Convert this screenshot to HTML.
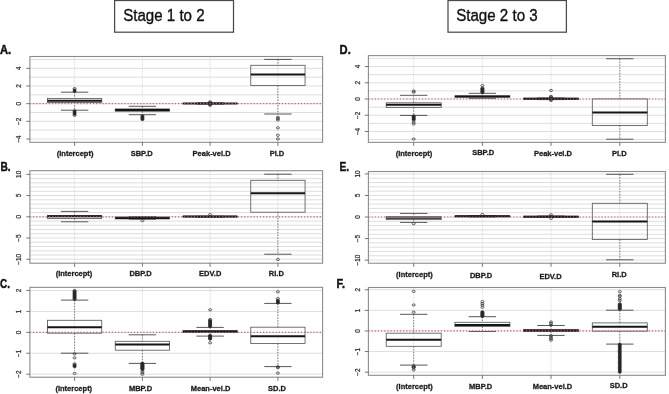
<!DOCTYPE html>
<html><head><meta charset="utf-8"><title>Stage transitions boxplots</title>
<style>
html,body{margin:0;padding:0;background:#fff;}
body{width:669px;height:394px;overflow:hidden;}
svg{display:block;will-change:transform;font-family:"Liberation Sans",sans-serif;}
.g{stroke:#dadada;stroke-width:0.9;}
.gv{stroke:#d2d2d2;stroke-width:0.8;stroke-dasharray:1 0.8;}
.w{stroke:#5a5a5a;stroke-width:0.75;stroke-dasharray:1.5 1.3;}
.s{stroke:#444;stroke-width:0.9;}
.b{fill:none;stroke:#5a5a5a;stroke-width:0.85;}
.m{stroke:#151515;stroke-width:2.0;}
.bl{fill:#1c1c1c;}
.o{fill:none;stroke:#2a2a2a;stroke-width:0.7;}
.r{stroke:#d65a74;stroke-width:1.2;stroke-dasharray:1.25 1.9;}
.fr{fill:none;stroke:#8c8c8c;stroke-width:1.1;}
.t{stroke:#666;stroke-width:0.9;}
.yl{font-size:6.4px;fill:#333;stroke:#333;stroke-width:0.25;text-anchor:middle;}
.xl{font-size:7.5px;font-weight:bold;fill:#1a1a1a;stroke:#1a1a1a;stroke-width:0.28;text-anchor:middle;}
.pl{font-size:12.3px;font-weight:bold;fill:#111;stroke:#111;stroke-width:0.45;}
.tt{font-size:16px;fill:#111;stroke:#111;stroke-width:0.35;}
.tb{fill:none;stroke:#4a4a4a;stroke-width:1.25;}
</style></head>
<body><svg width="669" height="394" viewBox="0 0 669 394">
<line x1="29.9" y1="138.97" x2="322.6" y2="138.97" class="g"/>
<line x1="29.9" y1="130.14" x2="322.6" y2="130.14" class="g"/>
<line x1="29.9" y1="121.31" x2="322.6" y2="121.31" class="g"/>
<line x1="29.9" y1="112.48" x2="322.6" y2="112.48" class="g"/>
<line x1="29.9" y1="103.65" x2="322.6" y2="103.65" class="g"/>
<line x1="29.9" y1="94.82" x2="322.6" y2="94.82" class="g"/>
<line x1="29.9" y1="85.99" x2="322.6" y2="85.99" class="g"/>
<line x1="29.9" y1="77.16" x2="322.6" y2="77.16" class="g"/>
<line x1="29.9" y1="68.33" x2="322.6" y2="68.33" class="g"/>
<line x1="29.9" y1="59.5" x2="322.6" y2="59.5" class="g"/>
<line x1="74.6" y1="56.5" x2="74.6" y2="142.3" class="gv"/>
<line x1="142.4" y1="56.5" x2="142.4" y2="142.3" class="gv"/>
<line x1="210.1" y1="56.5" x2="210.1" y2="142.3" class="gv"/>
<line x1="277.9" y1="56.5" x2="277.9" y2="142.3" class="gv"/>
<line x1="74.6" y1="92.2" x2="74.6" y2="98.4" class="w"/>
<line x1="74.6" y1="102.5" x2="74.6" y2="110.2" class="w"/>
<line x1="60.9" y1="92.2" x2="88.3" y2="92.2" class="s"/>
<line x1="60.9" y1="110.2" x2="88.3" y2="110.2" class="s"/>
<rect x="47.45" y="98.4" width="54.3" height="4.1" class="b"/>
<line x1="47.45" y1="100.7" x2="101.75" y2="100.7" class="m"/>
<rect x="73.25" y="88.7" width="2.7" height="3.6" rx="1.3" ry="1.1" class="bl"/>
<rect x="73.25" y="110.3" width="2.7" height="5.1" rx="1.3" ry="1.1" class="bl"/>
<ellipse cx="74.6" cy="88.6" rx="1.55" ry="1.1" class="o"/>
<ellipse cx="74.6" cy="90" rx="1.55" ry="1.1" class="o"/>
<ellipse cx="74.6" cy="91.4" rx="1.55" ry="1.1" class="o"/>
<ellipse cx="74.6" cy="110.8" rx="1.55" ry="1.1" class="o"/>
<ellipse cx="74.6" cy="111.92" rx="1.55" ry="1.1" class="o"/>
<ellipse cx="74.6" cy="113.05" rx="1.55" ry="1.1" class="o"/>
<ellipse cx="74.6" cy="114.17" rx="1.55" ry="1.1" class="o"/>
<ellipse cx="74.6" cy="115.3" rx="1.55" ry="1.1" class="o"/>
<line x1="142.4" y1="106.3" x2="142.4" y2="108.9" class="w"/>
<line x1="142.4" y1="111.3" x2="142.4" y2="114.7" class="w"/>
<line x1="128.7" y1="106.3" x2="156.1" y2="106.3" class="s"/>
<line x1="128.7" y1="114.7" x2="156.1" y2="114.7" class="s"/>
<rect x="115.25" y="108.9" width="54.3" height="2.4" class="b"/>
<line x1="115.25" y1="110.1" x2="169.55" y2="110.1" class="m"/>
<rect x="141.05" y="114.9" width="2.7" height="5.6" rx="1.3" ry="1.1" class="bl"/>
<ellipse cx="142.4" cy="115.8" rx="1.55" ry="1.1" class="o"/>
<ellipse cx="142.4" cy="116.75" rx="1.55" ry="1.1" class="o"/>
<ellipse cx="142.4" cy="117.7" rx="1.55" ry="1.1" class="o"/>
<ellipse cx="142.4" cy="118.65" rx="1.55" ry="1.1" class="o"/>
<ellipse cx="142.4" cy="119.6" rx="1.55" ry="1.1" class="o"/>
<line x1="210.1" y1="102.7" x2="210.1" y2="103" class="w"/>
<line x1="210.1" y1="104" x2="210.1" y2="104.3" class="w"/>
<line x1="196.4" y1="102.7" x2="223.8" y2="102.7" class="s"/>
<line x1="196.4" y1="104.3" x2="223.8" y2="104.3" class="s"/>
<rect x="182.95" y="103" width="54.3" height="1" class="b"/>
<line x1="182.95" y1="103.5" x2="237.25" y2="103.5" class="m" style="stroke-width:1.5"/>
<ellipse cx="210.1" cy="101.9" rx="1.55" ry="1.1" class="o"/>
<ellipse cx="210.1" cy="102.58" rx="1.55" ry="1.1" class="o"/>
<ellipse cx="210.1" cy="103.26" rx="1.55" ry="1.1" class="o"/>
<ellipse cx="210.1" cy="103.94" rx="1.55" ry="1.1" class="o"/>
<ellipse cx="210.1" cy="104.62" rx="1.55" ry="1.1" class="o"/>
<ellipse cx="210.1" cy="105.3" rx="1.55" ry="1.1" class="o"/>
<line x1="277.9" y1="59.4" x2="277.9" y2="65.3" class="w"/>
<line x1="277.9" y1="85.5" x2="277.9" y2="114" class="w"/>
<line x1="264.2" y1="59.4" x2="291.6" y2="59.4" class="s"/>
<line x1="264.2" y1="114" x2="291.6" y2="114" class="s"/>
<rect x="250.75" y="65.3" width="54.3" height="20.2" class="b"/>
<line x1="250.75" y1="74.5" x2="305.05" y2="74.5" class="m"/>
<ellipse cx="277.9" cy="117.3" rx="1.55" ry="1.1" class="o"/>
<ellipse cx="277.9" cy="118.6" rx="1.55" ry="1.1" class="o"/>
<ellipse cx="277.9" cy="119.9" rx="1.55" ry="1.1" class="o"/>
<ellipse cx="277.9" cy="127.85" rx="1.55" ry="1.1" class="o"/>
<ellipse cx="277.9" cy="135.3" rx="1.55" ry="1.1" class="o"/>
<ellipse cx="277.9" cy="139" rx="1.55" ry="1.1" class="o"/>
<line x1="29.9" y1="103.65" x2="322.6" y2="103.65" class="r"/>
<rect x="29.9" y="56.5" width="292.7" height="85.8" class="fr"/>
<line x1="26.3" y1="138.97" x2="29.9" y2="138.97" class="t"/>
<text transform="translate(21,138.97) rotate(-90)" class="yl">−4</text>
<line x1="26.3" y1="121.31" x2="29.9" y2="121.31" class="t"/>
<text transform="translate(21,121.31) rotate(-90)" class="yl">−2</text>
<line x1="26.3" y1="103.65" x2="29.9" y2="103.65" class="t"/>
<text transform="translate(21,103.65) rotate(-90)" class="yl">0</text>
<line x1="26.3" y1="85.99" x2="29.9" y2="85.99" class="t"/>
<text transform="translate(21,85.99) rotate(-90)" class="yl">2</text>
<line x1="26.3" y1="68.33" x2="29.9" y2="68.33" class="t"/>
<text transform="translate(21,68.33) rotate(-90)" class="yl">4</text>
<line x1="74.6" y1="142.3" x2="74.6" y2="145.9" class="t"/>
<text x="75.1" y="155.6" class="xl">(Intercept)</text>
<line x1="142.4" y1="142.3" x2="142.4" y2="145.9" class="t"/>
<text x="141.7" y="155.6" class="xl">SBP.D</text>
<line x1="210.1" y1="142.3" x2="210.1" y2="145.9" class="t"/>
<text x="211.6" y="155.6" class="xl">Peak-vel.D</text>
<line x1="277.9" y1="142.3" x2="277.9" y2="145.9" class="t"/>
<text x="277" y="155.6" class="xl">PI.D</text>
<text x="0" y="53.7" class="pl" textLength="11.2" lengthAdjust="spacingAndGlyphs">A.</text>
<line x1="29.9" y1="259.25" x2="322.6" y2="259.25" class="g"/>
<line x1="29.9" y1="255" x2="322.6" y2="255" class="g"/>
<line x1="29.9" y1="250.76" x2="322.6" y2="250.76" class="g"/>
<line x1="29.9" y1="246.52" x2="322.6" y2="246.52" class="g"/>
<line x1="29.9" y1="242.27" x2="322.6" y2="242.27" class="g"/>
<line x1="29.9" y1="238.03" x2="322.6" y2="238.03" class="g"/>
<line x1="29.9" y1="233.78" x2="322.6" y2="233.78" class="g"/>
<line x1="29.9" y1="229.54" x2="322.6" y2="229.54" class="g"/>
<line x1="29.9" y1="225.29" x2="322.6" y2="225.29" class="g"/>
<line x1="29.9" y1="221.05" x2="322.6" y2="221.05" class="g"/>
<line x1="29.9" y1="216.8" x2="322.6" y2="216.8" class="g"/>
<line x1="29.9" y1="212.56" x2="322.6" y2="212.56" class="g"/>
<line x1="29.9" y1="208.31" x2="322.6" y2="208.31" class="g"/>
<line x1="29.9" y1="204.06" x2="322.6" y2="204.06" class="g"/>
<line x1="29.9" y1="199.82" x2="322.6" y2="199.82" class="g"/>
<line x1="29.9" y1="195.58" x2="322.6" y2="195.58" class="g"/>
<line x1="29.9" y1="191.33" x2="322.6" y2="191.33" class="g"/>
<line x1="29.9" y1="187.09" x2="322.6" y2="187.09" class="g"/>
<line x1="29.9" y1="182.84" x2="322.6" y2="182.84" class="g"/>
<line x1="29.9" y1="178.6" x2="322.6" y2="178.6" class="g"/>
<line x1="29.9" y1="174.35" x2="322.6" y2="174.35" class="g"/>
<line x1="74.6" y1="170.7" x2="74.6" y2="263.2" class="gv"/>
<line x1="142.4" y1="170.7" x2="142.4" y2="263.2" class="gv"/>
<line x1="210.1" y1="170.7" x2="210.1" y2="263.2" class="gv"/>
<line x1="277.9" y1="170.7" x2="277.9" y2="263.2" class="gv"/>
<line x1="74.6" y1="211.4" x2="74.6" y2="215.6" class="w"/>
<line x1="74.6" y1="218.5" x2="74.6" y2="221.8" class="w"/>
<line x1="60.9" y1="211.4" x2="88.3" y2="211.4" class="s"/>
<line x1="60.9" y1="221.8" x2="88.3" y2="221.8" class="s"/>
<rect x="47.45" y="215.6" width="54.3" height="2.9" class="b"/>
<line x1="47.45" y1="216.2" x2="101.75" y2="216.2" class="m"/>
<line x1="142.4" y1="216.6" x2="142.4" y2="217" class="w"/>
<line x1="142.4" y1="218.9" x2="142.4" y2="219.2" class="w"/>
<line x1="128.7" y1="216.6" x2="156.1" y2="216.6" class="s"/>
<line x1="128.7" y1="219.2" x2="156.1" y2="219.2" class="s"/>
<rect x="115.25" y="217" width="54.3" height="1.9" class="b"/>
<line x1="115.25" y1="217.9" x2="169.55" y2="217.9" class="m"/>
<ellipse cx="142.4" cy="220.7" rx="1.55" ry="1.1" class="o"/>
<line x1="210.1" y1="216.3" x2="210.1" y2="216.2" class="w"/>
<line x1="210.1" y1="217" x2="210.1" y2="217.4" class="w"/>
<line x1="196.4" y1="216.3" x2="223.8" y2="216.3" class="s"/>
<line x1="196.4" y1="217.4" x2="223.8" y2="217.4" class="s"/>
<rect x="182.95" y="216.2" width="54.3" height="0.8" class="b"/>
<line x1="182.95" y1="216.6" x2="237.25" y2="216.6" class="m"/>
<ellipse cx="210.1" cy="214.6" rx="1.55" ry="1.1" class="o"/>
<line x1="277.9" y1="174.2" x2="277.9" y2="180.3" class="w"/>
<line x1="277.9" y1="212.2" x2="277.9" y2="254.2" class="w"/>
<line x1="264.2" y1="174.2" x2="291.6" y2="174.2" class="s"/>
<line x1="264.2" y1="254.2" x2="291.6" y2="254.2" class="s"/>
<rect x="250.75" y="180.3" width="54.3" height="31.9" class="b"/>
<line x1="250.75" y1="193.3" x2="305.05" y2="193.3" class="m"/>
<ellipse cx="277.9" cy="259.5" rx="1.55" ry="1.1" class="o"/>
<line x1="29.9" y1="216.8" x2="322.6" y2="216.8" class="r"/>
<rect x="29.9" y="170.7" width="292.7" height="92.5" class="fr"/>
<line x1="26.3" y1="259.25" x2="29.9" y2="259.25" class="t"/>
<text transform="translate(21,259.25) rotate(-90)" class="yl">−10</text>
<line x1="26.3" y1="238.03" x2="29.9" y2="238.03" class="t"/>
<text transform="translate(21,238.03) rotate(-90)" class="yl">−5</text>
<line x1="26.3" y1="216.8" x2="29.9" y2="216.8" class="t"/>
<text transform="translate(21,216.8) rotate(-90)" class="yl">0</text>
<line x1="26.3" y1="195.58" x2="29.9" y2="195.58" class="t"/>
<text transform="translate(21,195.58) rotate(-90)" class="yl">5</text>
<line x1="26.3" y1="174.35" x2="29.9" y2="174.35" class="t"/>
<text transform="translate(21,174.35) rotate(-90)" class="yl">10</text>
<line x1="74.6" y1="263.2" x2="74.6" y2="266.8" class="t"/>
<text x="74" y="276.2" class="xl">(Intercept)</text>
<line x1="142.4" y1="263.2" x2="142.4" y2="266.8" class="t"/>
<text x="140.6" y="276.2" class="xl">DBP.D</text>
<line x1="210.1" y1="263.2" x2="210.1" y2="266.8" class="t"/>
<text x="210.2" y="276.2" class="xl">EDV.D</text>
<line x1="277.9" y1="263.2" x2="277.9" y2="266.8" class="t"/>
<text x="276.3" y="276.2" class="xl">RI.D</text>
<text x="0.5" y="171" class="pl" textLength="10.2" lengthAdjust="spacingAndGlyphs">B.</text>
<line x1="29.9" y1="374.15" x2="322.6" y2="374.15" class="g"/>
<line x1="29.9" y1="353.25" x2="322.6" y2="353.25" class="g"/>
<line x1="29.9" y1="332.35" x2="322.6" y2="332.35" class="g"/>
<line x1="29.9" y1="311.45" x2="322.6" y2="311.45" class="g"/>
<line x1="29.9" y1="290.55" x2="322.6" y2="290.55" class="g"/>
<line x1="74.6" y1="287.35" x2="74.6" y2="377.2" class="gv"/>
<line x1="142.4" y1="287.35" x2="142.4" y2="377.2" class="gv"/>
<line x1="210.1" y1="287.35" x2="210.1" y2="377.2" class="gv"/>
<line x1="277.9" y1="287.35" x2="277.9" y2="377.2" class="gv"/>
<line x1="74.6" y1="300.1" x2="74.6" y2="320.3" class="w"/>
<line x1="74.6" y1="333.2" x2="74.6" y2="353.2" class="w"/>
<line x1="60.9" y1="300.1" x2="88.3" y2="300.1" class="s"/>
<line x1="60.9" y1="353.2" x2="88.3" y2="353.2" class="s"/>
<rect x="47.45" y="320.3" width="54.3" height="12.9" class="b"/>
<line x1="47.45" y1="327.2" x2="101.75" y2="327.2" class="m"/>
<rect x="73.25" y="290.6" width="2.7" height="9.1" rx="1.3" ry="1.1" class="bl"/>
<rect x="73.25" y="364.3" width="2.7" height="3.4" rx="1.3" ry="1.1" class="bl"/>
<ellipse cx="74.6" cy="290.5" rx="1.55" ry="1.1" class="o"/>
<ellipse cx="74.6" cy="291.32" rx="1.55" ry="1.1" class="o"/>
<ellipse cx="74.6" cy="292.14" rx="1.55" ry="1.1" class="o"/>
<ellipse cx="74.6" cy="292.95" rx="1.55" ry="1.1" class="o"/>
<ellipse cx="74.6" cy="293.77" rx="1.55" ry="1.1" class="o"/>
<ellipse cx="74.6" cy="294.59" rx="1.55" ry="1.1" class="o"/>
<ellipse cx="74.6" cy="295.41" rx="1.55" ry="1.1" class="o"/>
<ellipse cx="74.6" cy="296.23" rx="1.55" ry="1.1" class="o"/>
<ellipse cx="74.6" cy="297.05" rx="1.55" ry="1.1" class="o"/>
<ellipse cx="74.6" cy="297.86" rx="1.55" ry="1.1" class="o"/>
<ellipse cx="74.6" cy="298.68" rx="1.55" ry="1.1" class="o"/>
<ellipse cx="74.6" cy="299.5" rx="1.55" ry="1.1" class="o"/>
<ellipse cx="74.6" cy="353.9" rx="1.55" ry="1.1" class="o"/>
<ellipse cx="74.6" cy="357.8" rx="1.55" ry="1.1" class="o"/>
<ellipse cx="74.6" cy="363.8" rx="1.55" ry="1.1" class="o"/>
<ellipse cx="74.6" cy="364.8" rx="1.55" ry="1.1" class="o"/>
<ellipse cx="74.6" cy="365.8" rx="1.55" ry="1.1" class="o"/>
<ellipse cx="74.6" cy="366.8" rx="1.55" ry="1.1" class="o"/>
<ellipse cx="74.6" cy="373.4" rx="1.55" ry="1.1" class="o"/>
<line x1="142.4" y1="334.8" x2="142.4" y2="341.3" class="w"/>
<line x1="142.4" y1="350.2" x2="142.4" y2="363.4" class="w"/>
<line x1="128.7" y1="334.8" x2="156.1" y2="334.8" class="s"/>
<line x1="128.7" y1="363.4" x2="156.1" y2="363.4" class="s"/>
<rect x="115.25" y="341.3" width="54.3" height="8.9" class="b"/>
<line x1="115.25" y1="344.4" x2="169.55" y2="344.4" class="m"/>
<rect x="141.05" y="362.3" width="2.7" height="8" rx="1.3" ry="1.1" class="bl"/>
<ellipse cx="142.4" cy="363.2" rx="1.55" ry="1.1" class="o"/>
<ellipse cx="142.4" cy="363.72" rx="1.55" ry="1.1" class="o"/>
<ellipse cx="142.4" cy="364.23" rx="1.55" ry="1.1" class="o"/>
<ellipse cx="142.4" cy="364.75" rx="1.55" ry="1.1" class="o"/>
<ellipse cx="142.4" cy="365.27" rx="1.55" ry="1.1" class="o"/>
<ellipse cx="142.4" cy="365.78" rx="1.55" ry="1.1" class="o"/>
<ellipse cx="142.4" cy="366.3" rx="1.55" ry="1.1" class="o"/>
<ellipse cx="142.4" cy="366.82" rx="1.55" ry="1.1" class="o"/>
<ellipse cx="142.4" cy="367.33" rx="1.55" ry="1.1" class="o"/>
<ellipse cx="142.4" cy="367.85" rx="1.55" ry="1.1" class="o"/>
<ellipse cx="142.4" cy="368.37" rx="1.55" ry="1.1" class="o"/>
<ellipse cx="142.4" cy="368.88" rx="1.55" ry="1.1" class="o"/>
<ellipse cx="142.4" cy="369.4" rx="1.55" ry="1.1" class="o"/>
<ellipse cx="142.4" cy="371.2" rx="1.55" ry="1.1" class="o"/>
<ellipse cx="142.4" cy="372.8" rx="1.55" ry="1.1" class="o"/>
<ellipse cx="142.4" cy="374.3" rx="1.55" ry="1.1" class="o"/>
<line x1="210.1" y1="327.4" x2="210.1" y2="330.5" class="w"/>
<line x1="210.1" y1="332.3" x2="210.1" y2="336.1" class="w"/>
<line x1="196.4" y1="327.4" x2="223.8" y2="327.4" class="s"/>
<line x1="196.4" y1="336.1" x2="223.8" y2="336.1" class="s"/>
<rect x="182.95" y="330.5" width="54.3" height="1.8" class="b"/>
<line x1="182.95" y1="331.4" x2="237.25" y2="331.4" class="m"/>
<rect x="208.75" y="319.9" width="2.7" height="7.6" rx="1.3" ry="1.1" class="bl"/>
<rect x="208.75" y="334.4" width="2.7" height="5.7" rx="1.3" ry="1.1" class="bl"/>
<ellipse cx="210.1" cy="309.8" rx="1.55" ry="1.1" class="o"/>
<ellipse cx="210.1" cy="319.5" rx="1.55" ry="1.1" class="o"/>
<ellipse cx="210.1" cy="320.21" rx="1.55" ry="1.1" class="o"/>
<ellipse cx="210.1" cy="320.92" rx="1.55" ry="1.1" class="o"/>
<ellipse cx="210.1" cy="321.63" rx="1.55" ry="1.1" class="o"/>
<ellipse cx="210.1" cy="322.34" rx="1.55" ry="1.1" class="o"/>
<ellipse cx="210.1" cy="323.05" rx="1.55" ry="1.1" class="o"/>
<ellipse cx="210.1" cy="323.76" rx="1.55" ry="1.1" class="o"/>
<ellipse cx="210.1" cy="324.47" rx="1.55" ry="1.1" class="o"/>
<ellipse cx="210.1" cy="325.18" rx="1.55" ry="1.1" class="o"/>
<ellipse cx="210.1" cy="325.89" rx="1.55" ry="1.1" class="o"/>
<ellipse cx="210.1" cy="326.6" rx="1.55" ry="1.1" class="o"/>
<ellipse cx="210.1" cy="335.3" rx="1.55" ry="1.1" class="o"/>
<ellipse cx="210.1" cy="335.95" rx="1.55" ry="1.1" class="o"/>
<ellipse cx="210.1" cy="336.6" rx="1.55" ry="1.1" class="o"/>
<ellipse cx="210.1" cy="337.25" rx="1.55" ry="1.1" class="o"/>
<ellipse cx="210.1" cy="337.9" rx="1.55" ry="1.1" class="o"/>
<ellipse cx="210.1" cy="338.55" rx="1.55" ry="1.1" class="o"/>
<ellipse cx="210.1" cy="339.2" rx="1.55" ry="1.1" class="o"/>
<ellipse cx="210.1" cy="342.8" rx="1.55" ry="1.1" class="o"/>
<line x1="277.9" y1="303.4" x2="277.9" y2="327.2" class="w"/>
<line x1="277.9" y1="343.5" x2="277.9" y2="366.6" class="w"/>
<line x1="264.2" y1="303.4" x2="291.6" y2="303.4" class="s"/>
<line x1="264.2" y1="366.6" x2="291.6" y2="366.6" class="s"/>
<rect x="250.75" y="327.2" width="54.3" height="16.3" class="b"/>
<line x1="250.75" y1="336.3" x2="305.05" y2="336.3" class="m"/>
<rect x="276.55" y="299.7" width="2.7" height="4.2" rx="1.3" ry="1.1" class="bl"/>
<ellipse cx="277.9" cy="291.8" rx="1.55" ry="1.1" class="o"/>
<ellipse cx="277.9" cy="298.6" rx="1.55" ry="1.1" class="o"/>
<ellipse cx="277.9" cy="300.2" rx="1.55" ry="1.1" class="o"/>
<ellipse cx="277.9" cy="301.3" rx="1.55" ry="1.1" class="o"/>
<ellipse cx="277.9" cy="302.3" rx="1.55" ry="1.1" class="o"/>
<ellipse cx="277.9" cy="303" rx="1.55" ry="1.1" class="o"/>
<ellipse cx="277.9" cy="366.8" rx="1.55" ry="1.1" class="o"/>
<ellipse cx="277.9" cy="367.7" rx="1.55" ry="1.1" class="o"/>
<ellipse cx="277.9" cy="373.1" rx="1.55" ry="1.1" class="o"/>
<line x1="29.9" y1="332.35" x2="322.6" y2="332.35" class="r"/>
<rect x="29.9" y="287.35" width="292.7" height="89.85" class="fr"/>
<line x1="26.3" y1="374.15" x2="29.9" y2="374.15" class="t"/>
<text transform="translate(21,374.15) rotate(-90)" class="yl">−2</text>
<line x1="26.3" y1="353.25" x2="29.9" y2="353.25" class="t"/>
<text transform="translate(21,353.25) rotate(-90)" class="yl">−1</text>
<line x1="26.3" y1="332.35" x2="29.9" y2="332.35" class="t"/>
<text transform="translate(21,332.35) rotate(-90)" class="yl">0</text>
<line x1="26.3" y1="311.45" x2="29.9" y2="311.45" class="t"/>
<text transform="translate(21,311.45) rotate(-90)" class="yl">1</text>
<line x1="26.3" y1="290.55" x2="29.9" y2="290.55" class="t"/>
<text transform="translate(21,290.55) rotate(-90)" class="yl">2</text>
<line x1="74.6" y1="377.2" x2="74.6" y2="380.8" class="t"/>
<text x="73.8" y="390.8" class="xl">(Intercept)</text>
<line x1="142.4" y1="377.2" x2="142.4" y2="380.8" class="t"/>
<text x="140.5" y="390.8" class="xl">MBP.D</text>
<line x1="210.1" y1="377.2" x2="210.1" y2="380.8" class="t"/>
<text x="210.6" y="390.8" class="xl">Mean-vel.D</text>
<line x1="277.9" y1="377.2" x2="277.9" y2="380.8" class="t"/>
<text x="277" y="390.8" class="xl">SD.D</text>
<text x="0" y="287.9" class="pl" textLength="9.9" lengthAdjust="spacingAndGlyphs">C.</text>
<line x1="368.4" y1="139.6" x2="665.4" y2="139.6" class="g"/>
<line x1="368.4" y1="131.48" x2="665.4" y2="131.48" class="g"/>
<line x1="368.4" y1="123.36" x2="665.4" y2="123.36" class="g"/>
<line x1="368.4" y1="115.24" x2="665.4" y2="115.24" class="g"/>
<line x1="368.4" y1="107.12" x2="665.4" y2="107.12" class="g"/>
<line x1="368.4" y1="99" x2="665.4" y2="99" class="g"/>
<line x1="368.4" y1="90.88" x2="665.4" y2="90.88" class="g"/>
<line x1="368.4" y1="82.76" x2="665.4" y2="82.76" class="g"/>
<line x1="368.4" y1="74.64" x2="665.4" y2="74.64" class="g"/>
<line x1="368.4" y1="66.52" x2="665.4" y2="66.52" class="g"/>
<line x1="368.4" y1="58.4" x2="665.4" y2="58.4" class="g"/>
<line x1="413.7" y1="55.6" x2="413.7" y2="142.35" class="gv"/>
<line x1="482.4" y1="55.6" x2="482.4" y2="142.35" class="gv"/>
<line x1="551" y1="55.6" x2="551" y2="142.35" class="gv"/>
<line x1="619.8" y1="55.6" x2="619.8" y2="142.35" class="gv"/>
<line x1="413.7" y1="95.3" x2="413.7" y2="102.8" class="w"/>
<line x1="413.7" y1="107.4" x2="413.7" y2="115.4" class="w"/>
<line x1="400" y1="95.3" x2="427.4" y2="95.3" class="s"/>
<line x1="400" y1="115.4" x2="427.4" y2="115.4" class="s"/>
<rect x="386.2" y="102.8" width="55" height="4.6" class="b"/>
<line x1="386.2" y1="104.8" x2="441.2" y2="104.8" class="m"/>
<rect x="412.35" y="115" width="2.7" height="5.5" rx="1.3" ry="1.1" class="bl"/>
<ellipse cx="413.7" cy="91" rx="1.55" ry="1.1" class="o"/>
<ellipse cx="413.7" cy="92.2" rx="1.55" ry="1.1" class="o"/>
<ellipse cx="413.7" cy="115.9" rx="1.55" ry="1.1" class="o"/>
<ellipse cx="413.7" cy="116.72" rx="1.55" ry="1.1" class="o"/>
<ellipse cx="413.7" cy="117.54" rx="1.55" ry="1.1" class="o"/>
<ellipse cx="413.7" cy="118.36" rx="1.55" ry="1.1" class="o"/>
<ellipse cx="413.7" cy="119.18" rx="1.55" ry="1.1" class="o"/>
<ellipse cx="413.7" cy="120" rx="1.55" ry="1.1" class="o"/>
<ellipse cx="413.7" cy="122" rx="1.55" ry="1.1" class="o"/>
<ellipse cx="413.7" cy="124" rx="1.55" ry="1.1" class="o"/>
<ellipse cx="413.7" cy="139" rx="1.55" ry="1.1" class="o"/>
<line x1="482.4" y1="93.3" x2="482.4" y2="95.9" class="w"/>
<line x1="482.4" y1="97.1" x2="482.4" y2="98.3" class="w"/>
<line x1="468.7" y1="93.3" x2="496.1" y2="93.3" class="s"/>
<line x1="468.7" y1="98.3" x2="496.1" y2="98.3" class="s"/>
<rect x="454.9" y="95.9" width="55" height="1.2" class="b"/>
<line x1="454.9" y1="96.4" x2="509.9" y2="96.4" class="m"/>
<rect x="481.05" y="87.7" width="2.7" height="5.8" rx="1.3" ry="1.1" class="bl"/>
<ellipse cx="482.4" cy="85.6" rx="1.55" ry="1.1" class="o"/>
<ellipse cx="482.4" cy="88" rx="1.55" ry="1.1" class="o"/>
<ellipse cx="482.4" cy="88.66" rx="1.55" ry="1.1" class="o"/>
<ellipse cx="482.4" cy="89.31" rx="1.55" ry="1.1" class="o"/>
<ellipse cx="482.4" cy="89.97" rx="1.55" ry="1.1" class="o"/>
<ellipse cx="482.4" cy="90.63" rx="1.55" ry="1.1" class="o"/>
<ellipse cx="482.4" cy="91.29" rx="1.55" ry="1.1" class="o"/>
<ellipse cx="482.4" cy="91.94" rx="1.55" ry="1.1" class="o"/>
<ellipse cx="482.4" cy="92.6" rx="1.55" ry="1.1" class="o"/>
<line x1="551" y1="98" x2="551" y2="98.2" class="w"/>
<line x1="551" y1="99.3" x2="551" y2="99.6" class="w"/>
<line x1="537.3" y1="98" x2="564.7" y2="98" class="s"/>
<line x1="537.3" y1="99.6" x2="564.7" y2="99.6" class="s"/>
<rect x="523.5" y="98.2" width="55" height="1.1" class="b"/>
<line x1="523.5" y1="98.7" x2="578.5" y2="98.7" class="m"/>
<ellipse cx="551" cy="90.5" rx="1.55" ry="1.1" class="o"/>
<ellipse cx="551" cy="96.4" rx="1.55" ry="1.1" class="o"/>
<ellipse cx="551" cy="97.2" rx="1.55" ry="1.1" class="o"/>
<ellipse cx="551" cy="98" rx="1.55" ry="1.1" class="o"/>
<ellipse cx="551" cy="98.8" rx="1.55" ry="1.1" class="o"/>
<ellipse cx="551" cy="99.6" rx="1.55" ry="1.1" class="o"/>
<ellipse cx="551" cy="100.4" rx="1.55" ry="1.1" class="o"/>
<line x1="619.8" y1="58.75" x2="619.8" y2="98.9" class="w"/>
<line x1="619.8" y1="125.5" x2="619.8" y2="139.2" class="w"/>
<line x1="606.1" y1="58.75" x2="633.5" y2="58.75" class="s"/>
<line x1="606.1" y1="139.2" x2="633.5" y2="139.2" class="s"/>
<rect x="592.3" y="98.9" width="55" height="26.6" class="b"/>
<line x1="592.3" y1="112.4" x2="647.3" y2="112.4" class="m"/>
<line x1="368.4" y1="99" x2="665.4" y2="99" class="r"/>
<rect x="368.4" y="55.6" width="297" height="86.75" class="fr"/>
<line x1="364.8" y1="131.48" x2="368.4" y2="131.48" class="t"/>
<text transform="translate(359.8,131.48) rotate(-90)" class="yl">−4</text>
<line x1="364.8" y1="115.24" x2="368.4" y2="115.24" class="t"/>
<text transform="translate(359.8,115.24) rotate(-90)" class="yl">−2</text>
<line x1="364.8" y1="99" x2="368.4" y2="99" class="t"/>
<text transform="translate(359.8,99) rotate(-90)" class="yl">0</text>
<line x1="364.8" y1="82.76" x2="368.4" y2="82.76" class="t"/>
<text transform="translate(359.8,82.76) rotate(-90)" class="yl">2</text>
<line x1="364.8" y1="66.52" x2="368.4" y2="66.52" class="t"/>
<text transform="translate(359.8,66.52) rotate(-90)" class="yl">4</text>
<line x1="413.7" y1="142.35" x2="413.7" y2="145.95" class="t"/>
<text x="414" y="155.9" class="xl">(Intercept)</text>
<line x1="482.4" y1="142.35" x2="482.4" y2="145.95" class="t"/>
<text x="483.2" y="154.5" class="xl">SBP.D</text>
<line x1="551" y1="142.35" x2="551" y2="145.95" class="t"/>
<text x="553" y="155.9" class="xl">Peak-vel.D</text>
<line x1="619.8" y1="142.35" x2="619.8" y2="145.95" class="t"/>
<text x="619.3" y="155.9" class="xl">PI.D</text>
<text x="339.6" y="54.1" class="pl" textLength="11.2" lengthAdjust="spacingAndGlyphs">D.</text>
<line x1="368.4" y1="260.1" x2="665.4" y2="260.1" class="g"/>
<line x1="368.4" y1="255.79" x2="665.4" y2="255.79" class="g"/>
<line x1="368.4" y1="251.48" x2="665.4" y2="251.48" class="g"/>
<line x1="368.4" y1="247.17" x2="665.4" y2="247.17" class="g"/>
<line x1="368.4" y1="242.86" x2="665.4" y2="242.86" class="g"/>
<line x1="368.4" y1="238.55" x2="665.4" y2="238.55" class="g"/>
<line x1="368.4" y1="234.24" x2="665.4" y2="234.24" class="g"/>
<line x1="368.4" y1="229.93" x2="665.4" y2="229.93" class="g"/>
<line x1="368.4" y1="225.62" x2="665.4" y2="225.62" class="g"/>
<line x1="368.4" y1="221.31" x2="665.4" y2="221.31" class="g"/>
<line x1="368.4" y1="217" x2="665.4" y2="217" class="g"/>
<line x1="368.4" y1="212.69" x2="665.4" y2="212.69" class="g"/>
<line x1="368.4" y1="208.38" x2="665.4" y2="208.38" class="g"/>
<line x1="368.4" y1="204.07" x2="665.4" y2="204.07" class="g"/>
<line x1="368.4" y1="199.76" x2="665.4" y2="199.76" class="g"/>
<line x1="368.4" y1="195.45" x2="665.4" y2="195.45" class="g"/>
<line x1="368.4" y1="191.14" x2="665.4" y2="191.14" class="g"/>
<line x1="368.4" y1="186.83" x2="665.4" y2="186.83" class="g"/>
<line x1="368.4" y1="182.52" x2="665.4" y2="182.52" class="g"/>
<line x1="368.4" y1="178.21" x2="665.4" y2="178.21" class="g"/>
<line x1="368.4" y1="173.9" x2="665.4" y2="173.9" class="g"/>
<line x1="413.7" y1="171.5" x2="413.7" y2="263.2" class="gv"/>
<line x1="482.4" y1="171.5" x2="482.4" y2="263.2" class="gv"/>
<line x1="551" y1="171.5" x2="551" y2="263.2" class="gv"/>
<line x1="619.8" y1="171.5" x2="619.8" y2="263.2" class="gv"/>
<line x1="413.7" y1="213.4" x2="413.7" y2="216.6" class="w"/>
<line x1="413.7" y1="219.6" x2="413.7" y2="222.4" class="w"/>
<line x1="400" y1="213.4" x2="427.4" y2="213.4" class="s"/>
<line x1="400" y1="222.4" x2="427.4" y2="222.4" class="s"/>
<rect x="386.2" y="216.6" width="55" height="3" class="b"/>
<line x1="386.2" y1="218.1" x2="441.2" y2="218.1" class="m" style="stroke:#4a4a4a;stroke-width:1.8"/>
<ellipse cx="413.7" cy="223.7" rx="1.55" ry="1.1" class="o"/>
<line x1="482.4" y1="215.8" x2="482.4" y2="215.9" class="w"/>
<line x1="482.4" y1="216.7" x2="482.4" y2="216.9" class="w"/>
<line x1="468.7" y1="215.8" x2="496.1" y2="215.8" class="s"/>
<line x1="468.7" y1="216.9" x2="496.1" y2="216.9" class="s"/>
<rect x="454.9" y="215.9" width="55" height="0.8" class="b"/>
<line x1="454.9" y1="216.3" x2="509.9" y2="216.3" class="m"/>
<ellipse cx="482.4" cy="214.5" rx="1.55" ry="1.1" class="o"/>
<line x1="551" y1="216" x2="551" y2="216.2" class="w"/>
<line x1="551" y1="217.2" x2="551" y2="217.4" class="w"/>
<line x1="537.3" y1="216" x2="564.7" y2="216" class="s"/>
<line x1="537.3" y1="217.4" x2="564.7" y2="217.4" class="s"/>
<rect x="523.5" y="216.2" width="55" height="1" class="b"/>
<line x1="523.5" y1="216.7" x2="578.5" y2="216.7" class="m"/>
<ellipse cx="551" cy="214.8" rx="1.55" ry="1.1" class="o"/>
<ellipse cx="551" cy="216.6" rx="1.55" ry="1.1" class="o"/>
<ellipse cx="551" cy="218.4" rx="1.55" ry="1.1" class="o"/>
<line x1="619.8" y1="174.3" x2="619.8" y2="203.3" class="w"/>
<line x1="619.8" y1="239.4" x2="619.8" y2="259.8" class="w"/>
<line x1="606.1" y1="174.3" x2="633.5" y2="174.3" class="s"/>
<line x1="606.1" y1="259.8" x2="633.5" y2="259.8" class="s"/>
<rect x="592.3" y="203.3" width="55" height="36.1" class="b"/>
<line x1="592.3" y1="221.4" x2="647.3" y2="221.4" class="m"/>
<line x1="368.4" y1="217" x2="665.4" y2="217" class="r"/>
<rect x="368.4" y="171.5" width="297" height="91.7" class="fr"/>
<line x1="364.8" y1="260.1" x2="368.4" y2="260.1" class="t"/>
<text transform="translate(359.8,260.1) rotate(-90)" class="yl">−10</text>
<line x1="364.8" y1="238.55" x2="368.4" y2="238.55" class="t"/>
<text transform="translate(359.8,238.55) rotate(-90)" class="yl">−5</text>
<line x1="364.8" y1="217" x2="368.4" y2="217" class="t"/>
<text transform="translate(359.8,217) rotate(-90)" class="yl">0</text>
<line x1="364.8" y1="195.45" x2="368.4" y2="195.45" class="t"/>
<text transform="translate(359.8,195.45) rotate(-90)" class="yl">5</text>
<line x1="364.8" y1="173.9" x2="368.4" y2="173.9" class="t"/>
<text transform="translate(359.8,173.9) rotate(-90)" class="yl">10</text>
<line x1="413.7" y1="263.2" x2="413.7" y2="266.8" class="t"/>
<text x="414.4" y="277.3" class="xl">(Intercept)</text>
<line x1="482.4" y1="263.2" x2="482.4" y2="266.8" class="t"/>
<text x="481.1" y="277.9" class="xl">DBP.D</text>
<line x1="551" y1="263.2" x2="551" y2="266.8" class="t"/>
<text x="550.5" y="279.2" class="xl">EDV.D</text>
<line x1="619.8" y1="263.2" x2="619.8" y2="266.8" class="t"/>
<text x="619.2" y="276.9" class="xl">RI.D</text>
<text x="339.5" y="171.1" class="pl" textLength="9.5" lengthAdjust="spacingAndGlyphs">E.</text>
<line x1="368.4" y1="372.13" x2="665.4" y2="372.13" class="g"/>
<line x1="368.4" y1="351.54" x2="665.4" y2="351.54" class="g"/>
<line x1="368.4" y1="330.95" x2="665.4" y2="330.95" class="g"/>
<line x1="368.4" y1="310.36" x2="665.4" y2="310.36" class="g"/>
<line x1="368.4" y1="289.77" x2="665.4" y2="289.77" class="g"/>
<line x1="413.7" y1="287.5" x2="413.7" y2="375.3" class="gv"/>
<line x1="482.4" y1="287.5" x2="482.4" y2="375.3" class="gv"/>
<line x1="551" y1="287.5" x2="551" y2="375.3" class="gv"/>
<line x1="619.8" y1="287.5" x2="619.8" y2="375.3" class="gv"/>
<line x1="413.7" y1="314.3" x2="413.7" y2="333.2" class="w"/>
<line x1="413.7" y1="346.3" x2="413.7" y2="365.1" class="w"/>
<line x1="400" y1="314.3" x2="427.4" y2="314.3" class="s"/>
<line x1="400" y1="365.1" x2="427.4" y2="365.1" class="s"/>
<rect x="386.2" y="333.2" width="55" height="13.1" class="b"/>
<line x1="386.2" y1="339.7" x2="441.2" y2="339.7" class="m"/>
<ellipse cx="413.7" cy="291.4" rx="1.55" ry="1.1" class="o"/>
<ellipse cx="413.7" cy="305" rx="1.55" ry="1.1" class="o"/>
<ellipse cx="413.7" cy="312.2" rx="1.55" ry="1.1" class="o"/>
<ellipse cx="413.7" cy="366" rx="1.55" ry="1.1" class="o"/>
<ellipse cx="413.7" cy="366.6" rx="1.55" ry="1.1" class="o"/>
<ellipse cx="413.7" cy="367.2" rx="1.55" ry="1.1" class="o"/>
<ellipse cx="413.7" cy="367.8" rx="1.55" ry="1.1" class="o"/>
<ellipse cx="413.7" cy="369.9" rx="1.55" ry="1.1" class="o"/>
<line x1="482.4" y1="316.7" x2="482.4" y2="322.3" class="w"/>
<line x1="482.4" y1="326.6" x2="482.4" y2="331.5" class="w"/>
<line x1="468.7" y1="316.7" x2="496.1" y2="316.7" class="s"/>
<line x1="468.7" y1="331.5" x2="496.1" y2="331.5" class="s"/>
<rect x="454.9" y="322.3" width="55" height="4.3" class="b"/>
<line x1="454.9" y1="325" x2="509.9" y2="325" class="m"/>
<rect x="481.05" y="310.9" width="2.7" height="6.5" rx="1.3" ry="1.1" class="bl"/>
<ellipse cx="482.4" cy="301.6" rx="1.55" ry="1.1" class="o"/>
<ellipse cx="482.4" cy="303.6" rx="1.55" ry="1.1" class="o"/>
<ellipse cx="482.4" cy="305.2" rx="1.55" ry="1.1" class="o"/>
<ellipse cx="482.4" cy="307.3" rx="1.55" ry="1.1" class="o"/>
<ellipse cx="482.4" cy="311.8" rx="1.55" ry="1.1" class="o"/>
<ellipse cx="482.4" cy="312.39" rx="1.55" ry="1.1" class="o"/>
<ellipse cx="482.4" cy="312.98" rx="1.55" ry="1.1" class="o"/>
<ellipse cx="482.4" cy="313.56" rx="1.55" ry="1.1" class="o"/>
<ellipse cx="482.4" cy="314.15" rx="1.55" ry="1.1" class="o"/>
<ellipse cx="482.4" cy="314.74" rx="1.55" ry="1.1" class="o"/>
<ellipse cx="482.4" cy="315.32" rx="1.55" ry="1.1" class="o"/>
<ellipse cx="482.4" cy="315.91" rx="1.55" ry="1.1" class="o"/>
<ellipse cx="482.4" cy="316.5" rx="1.55" ry="1.1" class="o"/>
<line x1="551" y1="325.5" x2="551" y2="329.4" class="w"/>
<line x1="551" y1="331.6" x2="551" y2="335.4" class="w"/>
<line x1="537.3" y1="325.5" x2="564.7" y2="325.5" class="s"/>
<line x1="537.3" y1="335.4" x2="564.7" y2="335.4" class="s"/>
<rect x="523.5" y="329.4" width="55" height="2.2" class="b"/>
<line x1="523.5" y1="330.5" x2="578.5" y2="330.5" class="m"/>
<ellipse cx="551" cy="322" rx="1.55" ry="1.1" class="o"/>
<ellipse cx="551" cy="323.6" rx="1.55" ry="1.1" class="o"/>
<ellipse cx="551" cy="325.2" rx="1.55" ry="1.1" class="o"/>
<ellipse cx="551" cy="335.8" rx="1.55" ry="1.1" class="o"/>
<ellipse cx="551" cy="337.27" rx="1.55" ry="1.1" class="o"/>
<ellipse cx="551" cy="338.73" rx="1.55" ry="1.1" class="o"/>
<ellipse cx="551" cy="340.2" rx="1.55" ry="1.1" class="o"/>
<line x1="619.8" y1="310.2" x2="619.8" y2="322.9" class="w"/>
<line x1="619.8" y1="331.2" x2="619.8" y2="344.1" class="w"/>
<line x1="606.1" y1="310.2" x2="633.5" y2="310.2" class="s"/>
<line x1="606.1" y1="344.1" x2="633.5" y2="344.1" class="s"/>
<rect x="592.3" y="322.9" width="55" height="8.3" class="b"/>
<line x1="592.3" y1="326.7" x2="647.3" y2="326.7" class="m"/>
<rect x="618.45" y="303.3" width="2.7" height="6.8" rx="1.3" ry="1.1" class="bl"/>
<rect x="618.45" y="343.3" width="2.7" height="29.9" rx="1.3" ry="1.1" class="bl"/>
<ellipse cx="619.8" cy="291.6" rx="1.55" ry="1.1" class="o"/>
<ellipse cx="619.8" cy="295.3" rx="1.55" ry="1.1" class="o"/>
<ellipse cx="619.8" cy="296.5" rx="1.55" ry="1.1" class="o"/>
<ellipse cx="619.8" cy="299" rx="1.55" ry="1.1" class="o"/>
<ellipse cx="619.8" cy="300.6" rx="1.55" ry="1.1" class="o"/>
<ellipse cx="619.8" cy="303.8" rx="1.55" ry="1.1" class="o"/>
<ellipse cx="619.8" cy="304.4" rx="1.55" ry="1.1" class="o"/>
<ellipse cx="619.8" cy="305" rx="1.55" ry="1.1" class="o"/>
<ellipse cx="619.8" cy="305.6" rx="1.55" ry="1.1" class="o"/>
<ellipse cx="619.8" cy="306.2" rx="1.55" ry="1.1" class="o"/>
<ellipse cx="619.8" cy="306.8" rx="1.55" ry="1.1" class="o"/>
<ellipse cx="619.8" cy="307.4" rx="1.55" ry="1.1" class="o"/>
<ellipse cx="619.8" cy="308" rx="1.55" ry="1.1" class="o"/>
<ellipse cx="619.8" cy="308.6" rx="1.55" ry="1.1" class="o"/>
<ellipse cx="619.8" cy="309.2" rx="1.55" ry="1.1" class="o"/>
<ellipse cx="619.8" cy="344.2" rx="1.55" ry="1.1" class="o"/>
<ellipse cx="619.8" cy="345.42" rx="1.55" ry="1.1" class="o"/>
<ellipse cx="619.8" cy="346.64" rx="1.55" ry="1.1" class="o"/>
<ellipse cx="619.8" cy="347.87" rx="1.55" ry="1.1" class="o"/>
<ellipse cx="619.8" cy="349.09" rx="1.55" ry="1.1" class="o"/>
<ellipse cx="619.8" cy="350.31" rx="1.55" ry="1.1" class="o"/>
<ellipse cx="619.8" cy="351.53" rx="1.55" ry="1.1" class="o"/>
<ellipse cx="619.8" cy="352.75" rx="1.55" ry="1.1" class="o"/>
<ellipse cx="619.8" cy="353.97" rx="1.55" ry="1.1" class="o"/>
<ellipse cx="619.8" cy="355.2" rx="1.55" ry="1.1" class="o"/>
<ellipse cx="619.8" cy="356.42" rx="1.55" ry="1.1" class="o"/>
<ellipse cx="619.8" cy="357.64" rx="1.55" ry="1.1" class="o"/>
<ellipse cx="619.8" cy="358.86" rx="1.55" ry="1.1" class="o"/>
<ellipse cx="619.8" cy="360.08" rx="1.55" ry="1.1" class="o"/>
<ellipse cx="619.8" cy="361.3" rx="1.55" ry="1.1" class="o"/>
<ellipse cx="619.8" cy="362.53" rx="1.55" ry="1.1" class="o"/>
<ellipse cx="619.8" cy="363.75" rx="1.55" ry="1.1" class="o"/>
<ellipse cx="619.8" cy="364.97" rx="1.55" ry="1.1" class="o"/>
<ellipse cx="619.8" cy="366.19" rx="1.55" ry="1.1" class="o"/>
<ellipse cx="619.8" cy="367.41" rx="1.55" ry="1.1" class="o"/>
<ellipse cx="619.8" cy="368.63" rx="1.55" ry="1.1" class="o"/>
<ellipse cx="619.8" cy="369.86" rx="1.55" ry="1.1" class="o"/>
<ellipse cx="619.8" cy="371.08" rx="1.55" ry="1.1" class="o"/>
<ellipse cx="619.8" cy="372.3" rx="1.55" ry="1.1" class="o"/>
<line x1="368.4" y1="330.95" x2="665.4" y2="330.95" class="r"/>
<rect x="368.4" y="287.5" width="297" height="87.8" class="fr"/>
<line x1="364.8" y1="372.13" x2="368.4" y2="372.13" class="t"/>
<text transform="translate(359.8,372.13) rotate(-90)" class="yl">−2</text>
<line x1="364.8" y1="351.54" x2="368.4" y2="351.54" class="t"/>
<text transform="translate(359.8,351.54) rotate(-90)" class="yl">−1</text>
<line x1="364.8" y1="330.95" x2="368.4" y2="330.95" class="t"/>
<text transform="translate(359.8,330.95) rotate(-90)" class="yl">0</text>
<line x1="364.8" y1="310.36" x2="368.4" y2="310.36" class="t"/>
<text transform="translate(359.8,310.36) rotate(-90)" class="yl">1</text>
<line x1="364.8" y1="289.77" x2="368.4" y2="289.77" class="t"/>
<text transform="translate(359.8,289.77) rotate(-90)" class="yl">2</text>
<line x1="413.7" y1="375.3" x2="413.7" y2="378.9" class="t"/>
<text x="414.4" y="388.8" class="xl">(Intercept)</text>
<line x1="482.4" y1="375.3" x2="482.4" y2="378.9" class="t"/>
<text x="480.6" y="388.8" class="xl">MBP.D</text>
<line x1="551" y1="375.3" x2="551" y2="378.9" class="t"/>
<text x="552.5" y="388.8" class="xl">Mean-vel.D</text>
<line x1="619.8" y1="375.3" x2="619.8" y2="378.9" class="t"/>
<text x="618.6" y="388.2" class="xl">SD.D</text>
<text x="336.6" y="288.1" class="pl" textLength="8.4" lengthAdjust="spacingAndGlyphs">F.</text>
<rect x="114.6" y="0.5" width="118.9" height="31.7" class="tb"/>
<text x="123.2" y="20.7" class="tt" textLength="81.4" lengthAdjust="spacingAndGlyphs">Stage 1 to 2</text>
<rect x="448" y="0.5" width="118.4" height="31.7" class="tb"/>
<text x="456.2" y="20.7" class="tt" textLength="81.5" lengthAdjust="spacingAndGlyphs">Stage 2 to 3</text>
</svg></body></html>
